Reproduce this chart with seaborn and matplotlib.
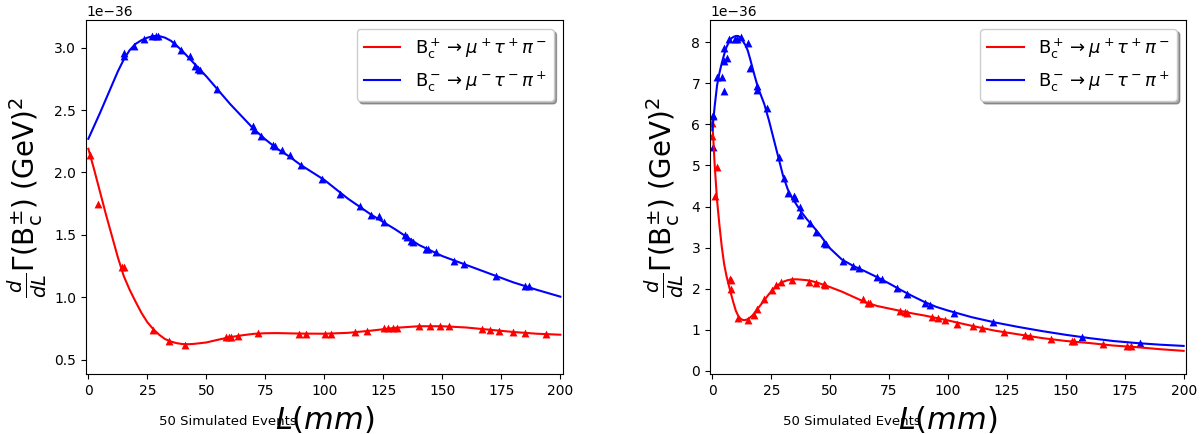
import numpy as np
import pandas as pd
import matplotlib
matplotlib.use("Agg")
import matplotlib.pyplot as plt
import seaborn as sns

# scale of all rates
scale = 1e-36

# LEFT PANEL: fitted curves
left_curve_L = [0, 2.5, 5, 7.5, 10, 12.5, 15, 17.5, 20, 22.5, 25, 27.5, 30, 32.5, 35, 37.5, 40,
                42.5, 45, 50, 55, 60, 65, 70, 75, 80, 85, 90, 100, 110, 120, 130, 140, 150,
                160, 170, 180, 190, 200]
left_plus_curve = [2.19, 2.02, 1.84, 1.66, 1.49, 1.32, 1.17, 1.06, 0.965, 0.875, 0.80, 0.745,
                   0.70, 0.665, 0.645, 0.632, 0.625, 0.624, 0.627, 0.638, 0.66, 0.68, 0.695,
                   0.707, 0.712, 0.713, 0.711, 0.709, 0.708, 0.715, 0.733, 0.755, 0.768, 0.768,
                   0.758, 0.74, 0.722, 0.708, 0.70]
left_minus_curve = [2.27, 2.375, 2.48, 2.59, 2.70, 2.81, 2.905, 2.98, 3.03, 3.06, 3.08, 3.093,
                    3.093, 3.08, 3.055, 3.015, 2.97, 2.92, 2.87, 2.77, 2.66, 2.55, 2.45, 2.35,
                    2.265, 2.19, 2.13, 2.06, 1.94, 1.79, 1.66, 1.545, 1.42, 1.33, 1.26, 1.19,
                    1.12, 1.06, 1.005]

# LEFT PANEL: simulated events
left_plus_L = [0.85, 4.1, 14.2, 15.3, 27.2, 34, 41.1, 58.2, 59.5, 60.3, 63.3, 71.9, 89.1, 92.2,
               100.1, 103, 113.1, 118.1, 125.1, 126.8, 129.1, 130.8, 139.9, 144.9, 148.9, 153,
               166.8, 170, 174, 179.9, 184.9, 193.9]
left_plus_val = [2.14, 1.745, 1.245, 1.24, 0.74, 0.65, 0.618, 0.68, 0.684, 0.684, 0.69, 0.71,
                 0.706, 0.706, 0.706, 0.706, 0.724, 0.732, 0.75, 0.756, 0.756, 0.756, 0.77, 0.77,
                 0.77, 0.768, 0.743, 0.738, 0.732, 0.722, 0.716, 0.706]
left_minus_L = [15.3, 15.3, 19.2, 23.4, 27, 28.5, 29.5, 36.2, 39.4, 42.9, 45.3, 46.5, 47.5, 54.5,
                69.6, 70.3, 73.3, 78.3, 79, 82, 85.3, 90.3, 99, 106.5, 115, 119.8, 123, 125.1,
                134.3, 135, 136.9, 137.6, 143.1, 144, 147.2, 155.1, 159, 172.9, 185.2, 186.6]
left_minus_val = [2.955, 2.93, 3.01, 3.07, 3.09, 3.095, 3.09, 3.04, 2.98, 2.93, 2.85, 2.83, 2.82,
                  2.67, 2.37, 2.34, 2.29, 2.22, 2.21, 2.18, 2.14, 2.06, 1.945, 1.83, 1.73, 1.66,
                  1.65, 1.60, 1.50, 1.485, 1.45, 1.44, 1.39, 1.385, 1.36, 1.29, 1.27, 1.17, 1.09,
                  1.09]

# RIGHT PANEL: fitted curves
right_curve_L = [0, 1, 2, 3, 4, 5, 6, 7, 8, 9, 10, 11, 12, 13, 14, 15, 16, 17, 18, 19, 20, 22,
                 24, 26, 28, 30, 32, 34, 36, 38, 40, 42, 45, 50, 55, 60, 65, 70, 75, 80, 85, 90,
                 95, 100, 110, 120, 130, 140, 150, 160, 170, 180, 190, 200]
right_plus_curve = [6.07, 5.0, 4.15, 3.55, 3.02, 2.6, 2.31, 2.08, 1.86, 1.65, 1.46, 1.34, 1.27,
                    1.24, 1.24, 1.26, 1.30, 1.35, 1.42, 1.50, 1.57, 1.72, 1.87, 2.0, 2.1, 2.17,
                    2.21, 2.23, 2.23, 2.22, 2.21, 2.19, 2.14, 2.04, 1.93, 1.80, 1.67, 1.58, 1.52,
                    1.46, 1.40, 1.35, 1.29, 1.23, 1.10, 0.98, 0.89, 0.80, 0.73, 0.68, 0.62, 0.58,
                    0.53, 0.49]
right_minus_curve = [5.86, 6.45, 6.95, 7.25, 7.49, 7.7, 7.88, 8.0, 8.09, 8.13, 8.15, 8.15, 8.1,
                     8.02, 7.93, 7.8, 7.6, 7.38, 7.17, 6.97, 6.8, 6.5, 6.1, 5.65, 5.2, 4.75,
                     4.42, 4.2, 4.02, 3.85, 3.7, 3.57, 3.36, 2.98, 2.71, 2.55, 2.42, 2.28, 2.13,
                     1.97, 1.82, 1.68, 1.56, 1.47, 1.31, 1.18, 1.07, 0.97, 0.88, 0.80, 0.73,
                     0.68, 0.64, 0.61]

# RIGHT PANEL: simulated events
right_plus_L = [0, 0, 2.1, 1.1, 7.5, 7.9, 7.9, 11, 15, 17.8, 18.8, 22, 25.1, 26.9, 29, 34, 41,
                43.9, 47.2, 48, 63.9, 66, 66.8, 79.8, 81.9, 82.5, 93, 95.6, 98.9, 103.8, 110.7,
                114.6, 123.8, 132.7, 134.7, 143.7, 152.7, 153.5, 165.7, 176, 177.7]
right_plus_val = [6.03, 5.72, 4.97, 4.26, 2.25, 2.22, 1.99, 1.28, 1.24, 1.36, 1.5, 1.745, 1.97,
                  2.09, 2.17, 2.21, 2.17, 2.14, 2.11, 2.09, 1.745, 1.66, 1.65, 1.47, 1.44, 1.42,
                  1.32, 1.30, 1.24, 1.14, 1.095, 1.05, 0.94, 0.87, 0.85, 0.77, 0.73, 0.72, 0.66,
                  0.61, 0.61]
right_minus_L = [0.2, 0.4, 0.2, 1.9, 4, 5.1, 5, 6.1, 5.1, 7.2, 9.7, 10.6, 12.2, 15.3, 16, 18.9,
                 19.1, 23.1, 28.1, 30.2, 32.3, 34.5, 35.2, 37.3, 37.3, 41.3, 44.1, 47.5, 48.3,
                 55.5, 59.7, 62.1, 69.7, 72.1, 78.2, 82.4, 90.1, 92.3, 102.6, 119, 156.7, 181.6]
right_minus_val = [6.23, 6.2, 5.46, 7.16, 7.15, 6.8, 7.53, 7.61, 7.85, 8.07, 8.07, 8.07, 8.12,
                   7.97, 7.37, 6.93, 6.84, 6.39, 5.2, 4.69, 4.34, 4.26, 4.22, 4.0, 3.8, 3.61,
                   3.39, 3.11, 3.08, 2.68, 2.555, 2.51, 2.29, 2.24, 2.03, 1.88, 1.66, 1.61, 1.42,
                   1.18, 0.82, 0.67]

label_plus = r'$\mathrm{B_c^+} \rightarrow \mu^+ \tau^+ \pi^-$'
label_minus = r'$\mathrm{B_c^-} \rightarrow \mu^- \tau^- \pi^+$'


def draw_panel(ax, curve_L, plus_curve, minus_curve, pL, pV, mL, mV, ylim):
    curves = pd.DataFrame({"L": curve_L,
                           "plus": np.array(plus_curve) * scale,
                           "minus": np.array(minus_curve) * scale})
    sns.lineplot(data=curves, x="L", y="plus", color="red", lw=1.5, label=label_plus, ax=ax)
    sns.lineplot(data=curves, x="L", y="minus", color="blue", lw=1.5, label=label_minus, ax=ax)

    plus_pts = pd.DataFrame({"L": pL, "v": np.array(pV) * scale})
    minus_pts = pd.DataFrame({"L": mL, "v": np.array(mV) * scale})
    sns.scatterplot(data=plus_pts, x="L", y="v", marker="^", color="red", s=32,
                    linewidth=0, ax=ax, legend=False)
    sns.scatterplot(data=minus_pts, x="L", y="v", marker="^", color="blue", s=32,
                    linewidth=0, ax=ax, legend=False)

    ax.set_xlim(-1, 201)
    ax.set_ylim(ylim[0] * scale, ylim[1] * scale)
    ax.set_xticks([0, 25, 50, 75, 100, 125, 150, 175, 200])
    ax.set_xlabel(r'$L(mm)$', fontsize=22)
    ax.set_ylabel(r'$\frac{d}{dL}\Gamma(\mathrm{B_c^{\pm}})$ (GeV)$^2$', fontsize=20)
    ax.text(0.298, -0.132, "50 Simulated Events", transform=ax.transAxes,
            ha="center", va="center", fontsize=9.5)
    ax.legend(loc="upper right", fontsize=13, shadow=True, fancybox=True)


fig = plt.figure(figsize=(12.02, 4.34), dpi=100)
ax1 = fig.add_axes([86 / 1202, 0.1376, 476.7 / 1202, 0.8164])
ax2 = fig.add_axes([710 / 1202, 0.1376, 476 / 1202, 0.8164])

draw_panel(ax1, left_curve_L, left_plus_curve, left_minus_curve,
           left_plus_L, left_plus_val, left_minus_L, left_minus_val, (0.383, 3.222))
draw_panel(ax2, right_curve_L, right_plus_curve, right_minus_curve,
           right_plus_L, right_plus_val, right_minus_L, right_minus_val, (-0.08, 8.54))

fig.savefig("out.png", dpi=100)
